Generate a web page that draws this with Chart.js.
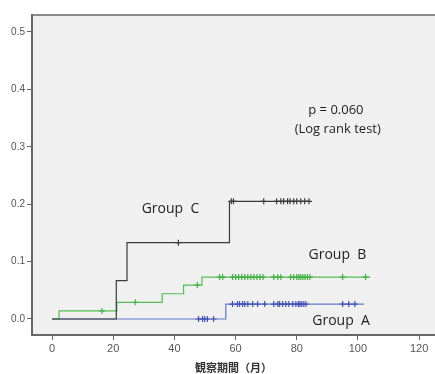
<!DOCTYPE html>
<html>
<head>
<meta charset="utf-8">
<script src="https://cdn.jsdelivr.net/npm/chart.js@4/dist/chart.umd.min.js"></script>
<style>
	html, body { margin: 0; padding: 0; background: #fff; overflow: hidden; }
	#wrap { width: 435px; height: 374px; position: relative; }
</style>
</head>
<body>
<div id="wrap"><canvas id="kmChart"></canvas></div>
<script>
"use strict";

// step curves (time in months, cumulative incidence)
var groupCTime = [0, 21, 24.5, 58, 84.3];
var groupCRate = [0, 0.067, 0.133, 0.205, 0.205];
var groupBTime = [0, 2.3, 21.2, 36, 43, 49, 104];
var groupBRate = [0, 0.014, 0.029, 0.044, 0.059, 0.073, 0.073];
var groupATime = [0, 56.8, 102];
var groupARate = [0, 0.026, 0.026];

// censored cases
var groupCCensor = [41.3, 58.6, 59.3, 69.2, 73.4, 74.8, 75.7, 77, 77.8, 79, 80, 81.3, 82.6, 84];
var groupBCensor = [16.3, 27.2, 47.5, 54.8, 55.8, 59, 60, 61, 62, 63, 64, 65, 66, 67, 68, 69, 72.5, 73.8, 74.8, 78, 79, 80, 80.7, 81.3, 82, 82.7, 83.5, 84.3, 95, 102.5];
var groupACensor = [47.9, 49.2, 49.9, 50.8, 52.8, 59, 60.6, 61.3, 62.3, 63, 64, 65.6, 67.2, 69.5, 72.5, 73.8, 74.4, 75.4, 76.4, 77.4, 78.7, 79.7, 80.5, 81, 81.6, 82.3, 83, 95, 97, 99];

var xTicks = [0, 20, 40, 60, 80, 100, 120];
var yTicks = [0, 0.1, 0.2, 0.3, 0.4, 0.5];
var xTitle = '観察期間（月）';

var notes = [
	{ text: 'Group  C', x: 38.7, y: 0.191, size: 14 },
	{ text: 'Group  B', x: 93.3, y: 0.112, size: 14 },
	{ text: 'Group  A', x: 94.5, y: -0.003, size: 14 },
	{ text: 'p = 0.060', x: 92.8, y: 0.364, size: 13 },
	{ text: '(Log rank test)', x: 93.4, y: 0.331, size: 13 }
];

var colC = '#3a3a3a', colB = '#55bb55', colA = '#6577c8';

function toPoints(xs, ys) {
	return xs.map(function (x, i) { return { x: x, y: ys[i] }; });
}

// censor marks sit on the curve level at that time
function censorPoints(times, curveT, curveR) {
	return times.map(function (t) {
		var lvl = 0;
		for (var i = 0; i < curveT.length; i++) {
			if (curveT[i] <= t) lvl = curveR[i];
		}
		return { x: t, y: lvl };
	});
}

function stepSet(label, xs, ys, col) {
	return {
		label: label,
		data: toPoints(xs, ys),
		showLine: true,
		stepped: 'before',
		borderColor: col,
		borderWidth: 1.2,
		pointRadius: 0,
		order: 2
	};
}

function censorSet(label, times, xs, ys, col) {
	return {
		label: label,
		data: censorPoints(times, xs, ys),
		showLine: false,
		pointStyle: 'cross',
		pointRadius: 3,
		borderColor: col,
		borderWidth: 1.2,
		order: 1
	};
}

var plotBg = {
	id: 'plotBg',
	beforeDraw: function (chart) {
		var a = chart.chartArea, ctx = chart.ctx;
		ctx.save();
		ctx.fillStyle = '#f0f0f0';
		ctx.fillRect(a.left, a.top, chart.width - a.left, a.bottom - a.top);
		ctx.strokeStyle = '#8a8a8a';
		ctx.lineWidth = 2;
		ctx.beginPath();
		ctx.moveTo(a.left, a.top);
		ctx.lineTo(chart.width, a.top);
		ctx.stroke();
		ctx.restore();
	},
	afterDatasetsDraw: function (chart) {
		var ctx = chart.ctx, xs = chart.scales.x, ys = chart.scales.y;
		ctx.save();
		ctx.fillStyle = '#1e1e1e';
		ctx.textAlign = 'center';
		ctx.textBaseline = 'middle';
		notes.forEach(function (n) {
			ctx.font = n.size + 'px "Open Sans", sans-serif';
			ctx.fillText(n.text, xs.getPixelForValue(n.x), ys.getPixelForValue(n.y));
		});
		ctx.restore();
	}
};

var ctx = document.getElementById('kmChart');
var kmChart = new Chart(ctx, {
	type: 'scatter',
	data: {
		datasets: [
			stepSet('Group C', groupCTime, groupCRate, colC),
			stepSet('Group B', groupBTime, groupBRate, colB),
			stepSet('Group A', groupATime, groupARate, colA),
			censorSet('C censored', groupCCensor, groupCTime, groupCRate, colC),
			censorSet('B censored', groupBCensor, groupBTime, groupBRate, '#45b045'),
			censorSet('A censored', groupACensor, groupATime, groupARate, '#4252b4')
		]
	},
	options: {
		responsive: true,
		maintainAspectRatio: false,
		animation: false,
		layout: { autoPadding: false, padding: { top: 15, right: 0, left: 0, bottom: 0 } },
		plugins: {
			legend: { display: false },
			tooltip: { enabled: false }
		},
		scales: {
			x: {
				type: 'linear',
				min: -6.56,
				max: 125.2,
				afterBuildTicks: function (axis) {
					axis.ticks = xTicks.map(function (v) { return { value: v }; });
				},
				afterFit: function (axis) {
					axis.height = 39;
					axis.paddingRight = 0;
					axis.paddingLeft = 0;
				},
				ticks: {
					color: '#555',
					font: { family: 'Arial, "Liberation Sans", sans-serif', size: 11 },
					padding: 2,
					maxRotation: 0
				},
				grid: {
					drawOnChartArea: false,
					drawTicks: true,
					tickLength: 5,
					color: '#666'
				},
				border: { color: '#666', width: 2 },
				title: {
					display: true,
					text: xTitle,
					color: '#333',
					font: { family: '"Noto Sans CJK JP", sans-serif', size: 11, weight: 'bold' },
					padding: { top: 0, bottom: 0 }
				}
			},
			y: {
				type: 'linear',
				min: -0.0279,
				max: 0.5296,
				afterBuildTicks: function (axis) {
					axis.ticks = yTicks.map(function (v) { return { value: v }; });
				},
				afterFit: function (axis) {
					axis.width = 32;
					axis.paddingTop = 0;
					axis.paddingBottom = 0;
				},
				ticks: {
					color: '#555',
					font: { family: 'Arial, "Liberation Sans", sans-serif', size: 10 },
					padding: 2,
					callback: function (v) { return Number(v).toFixed(1); }
				},
				grid: {
					drawOnChartArea: false,
					drawTicks: true,
					tickLength: 5,
					color: '#666'
				},
				border: { color: '#666', width: 2 }
			}
		}
	},
	plugins: [plotBg]
});
</script>
</body>
</html>
